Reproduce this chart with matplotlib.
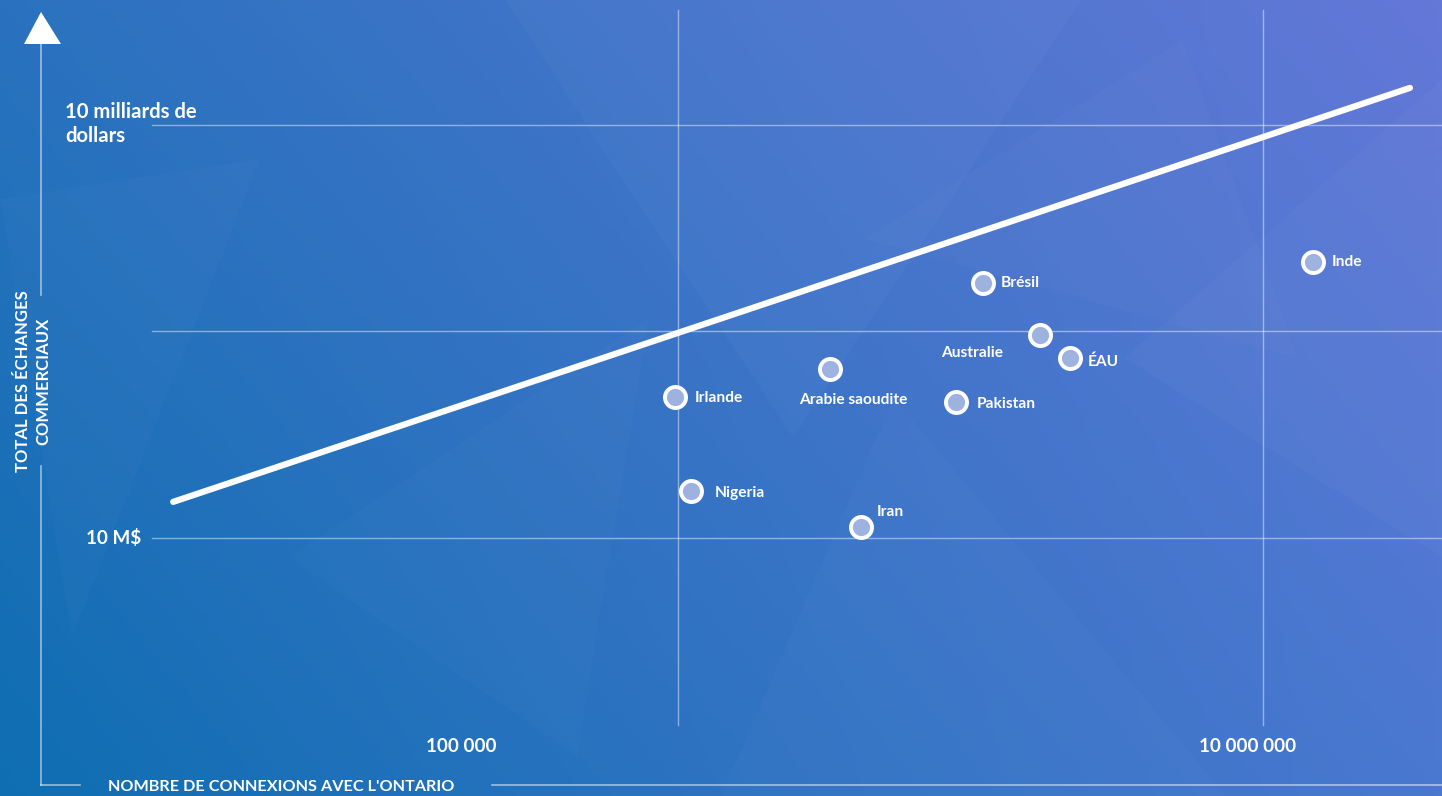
import numpy as np
import matplotlib.pyplot as plt
from matplotlib.patches import Polygon

# data: connections with Ontario (x) vs total trade in dollars (y)
pays = ["Irlande", "Nigeria", "Arabie saoudite", "Iran", "Pakistan",
        "Brésil", "Australie", "ÉAU", "Inde"]
connexions = [98000, 111000, 331000, 422000, 892000,
              1100000, 1730000, 2190000, 14800000]
echanges = [1.06e8, 2.19e7, 1.69e8, 1.20e7, 9.7e7,
            7.1e8, 2.98e8, 2.03e8, 1.01e9]

# trend line end points
tend_x = [1880, 3.18e7]
tend_y = [1.83e7, 1.86e10]

x_ticks = [1e5, 1e7]
x_tick_labels = ["100 000", "10 000 000"]
y_grid = [1e7, 10**8.5, 1e10]

plt.rcParams['font.family'] = ['Lato', 'DejaVu Sans']

fig = plt.figure(figsize=(14.42, 7.96), dpi=100)
ax = fig.add_axes([0, 0, 1, 1])
ax.set_xscale('log')
ax.set_yscale('log')
x0, x1 = 10**2.6821, 10**7.6120
y0, y1 = 10**5.1260, 10**10.9079
ax.set_xlim(x0, x1)
ax.set_ylim(y0, y1)
ax.axis('off')

# background gradient (bilinear between corner colours)
def hex2rgb(h):
    return np.array([int(h[i:i + 2], 16) / 255 for i in (1, 3, 5)])

tl, tr = hex2rgb("#2a72bf"), hex2rgb("#6478d8")
bl, br = hex2rgb("#0f6eb2"), hex2rgb("#4a78d0")
u = np.linspace(0, 1, 300)[None, :, None]
v = np.linspace(0, 1, 170)[:, None, None]
top = tl * (1 - u) + tr * u
bot = bl * (1 - u) + br * u
img = top * (1 - v) + bot * v
ax.imshow(img, extent=[0, 1, 0, 1], transform=ax.transAxes, aspect='auto',
          zorder=0, origin='upper')

# faint facets in the background
facets = [
    ([(0.35, 1.0), (0.55, 0.45), (0.75, 1.0)], 0.025),
    ([(0.0, 0.75), (0.18, 0.8), (0.05, 0.2)], 0.02),
    ([(0.5, 0.0), (0.62, 0.5), (0.85, 0.0)], 0.02),
    ([(0.78, 0.55), (1.0, 0.9), (1.0, 0.3)], 0.025),
    ([(0.2, 0.3), (0.45, 0.6), (0.4, 0.05)], 0.015),
    ([(0.6, 0.7), (0.82, 0.95), (0.9, 0.55)], 0.02),
]
for pts, a in facets:
    ax.add_patch(Polygon(pts, closed=True, transform=ax.transAxes,
                         facecolor='white', edgecolor='none', alpha=a, zorder=0.5))

gcol = (1, 1, 1, 0.45)
fx = lambda px: px / 1442
fy = lambda py: 1 - py / 796

# horizontal grid lines
for yv in y_grid:
    ax.plot([fx(152), 1], [yv, yv], color=gcol, lw=1,
            transform=ax.get_yaxis_transform(), zorder=1)
# vertical grid lines
for xv in x_ticks:
    ax.plot([xv, xv], [fy(725), fy(10)], color=gcol, lw=1,
            transform=ax.get_xaxis_transform(), zorder=1)

# axis lines with gaps for the titles
acol = (1, 1, 1, 0.55)
ax.plot([fx(41), fx(41)], [fy(44), fy(295)], color=acol, lw=1.2, transform=ax.transAxes)
ax.plot([fx(41), fx(41)], [fy(466), fy(785)], color=acol, lw=1.2, transform=ax.transAxes)
ax.plot([fx(41), fx(80)], [fy(785), fy(785)], color=acol, lw=1.2, transform=ax.transAxes)
ax.plot([fx(492), 1], [fy(785), fy(785)], color=acol, lw=1.2, transform=ax.transAxes)
ax.add_patch(Polygon([(fx(24), fy(44)), (fx(61), fy(44)), (fx(41), fy(12))],
                     closed=True, transform=ax.transAxes, facecolor='white',
                     edgecolor='none', zorder=3))

# trend line
ax.plot(tend_x, tend_y, color='white', lw=4.5, solid_capstyle='round', zorder=3)

# points
ax.scatter(connexions, echanges, s=230, facecolor='#9db2df', edgecolor='white',
           linewidth=2.8, zorder=4)

# labels: (dx, dy) offsets in points and alignment
offsets = {
    "Irlande": (14, -1, 'left', 'center'),
    "Nigeria": (17, -1, 'left', 'center'),
    "Arabie saoudite": (17, -22, 'center', 'center'),
    "Iran": (21, 11, 'center', 'center'),
    "Pakistan": (15, -1, 'left', 'center'),
    "Brésil": (13, 0, 'left', 'center'),
    "Australie": (-49, -13, 'center', 'center'),
    "ÉAU": (13, -3, 'left', 'center'),
    "Inde": (14, 0, 'left', 'center'),
}
for p, xv, yv in zip(pays, connexions, echanges):
    dx, dy, ha, va = offsets[p]
    ax.annotate(p, (xv, yv), xytext=(dx, dy), textcoords='offset points',
                ha=ha, va=va, color='white', fontsize=11.2, fontweight='bold',
                zorder=5)

# tick labels
tick_px = [461, 1248]
for px, lab in zip(tick_px, x_tick_labels):
    ax.text(fx(px), fy(746), lab, transform=ax.transAxes, ha='center', va='center',
            color='white', fontsize=13.6, fontweight='bold')
ax.text(fx(141), 1e7, "10 M$", ha='right', va='center', color='white',
        fontsize=13.6, fontweight='bold', transform=ax.get_yaxis_transform())
ax.text(fx(65), fy(124), "10 milliards de\ndollars", transform=ax.transAxes,
        ha='left', va='center', color='white', fontsize=14.6, fontweight='bold',
        linespacing=1.3)

# axis titles
ax.text(fx(108), fy(787), "NOMBRE DE CONNEXIONS AVEC L'ONTARIO", transform=ax.transAxes,
        ha='left', va='center', color='white', fontsize=11.7, fontweight='bold')
ax.text(fx(33), fy(381), "TOTAL DES ÉCHANGES\nCOMMERCIAUX", transform=ax.transAxes,
        ha='center', va='center', rotation=90, color='white', fontsize=12,
        fontweight='bold', linespacing=1.35)

fig.savefig("out.png", dpi=100)
